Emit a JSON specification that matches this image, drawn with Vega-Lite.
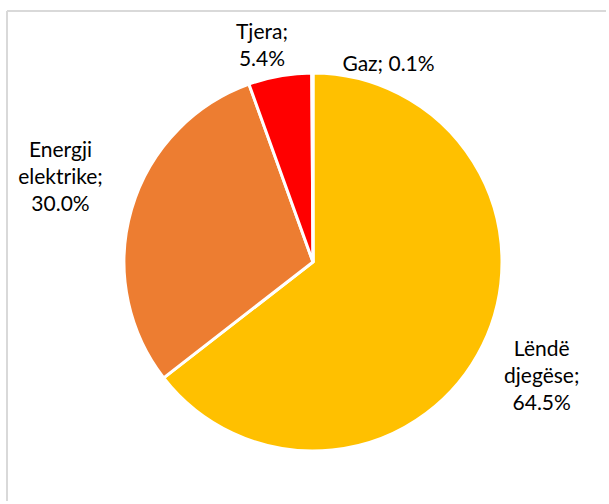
{
  "$schema": "https://vega.github.io/schema/vega-lite/v6.json",
  "width": 612,
  "height": 502,
  "autosize": {"type": "none"},
  "padding": {"left": 7, "top": 11, "right": -10, "bottom": -9},
  "background": "white",
  "config": {"view": {"stroke": null}},
  "data": {
    "values": [
      {"name": "Lëndë djegëse", "value": 64.5, "order": 1, "label": "Lëndë\ndjegëse;\n64.5%"},
      {"name": "Energji elektrike", "value": 30.0, "order": 2, "label": "Energji\nelektrike;\n30.0%"},
      {"name": "Tjera", "value": 5.4, "order": 3, "label": "Tjera;\n5.4%"},
      {"name": "Gaz", "value": 0.1, "order": 4, "label": "Gaz; 0.1%"}
    ]
  },
  "layer": [
    {
      "data": {"values": [{"frame": 1}]},
      "mark": {"type": "rule", "stroke": "#d9d9d9", "strokeWidth": 2},
      "encoding": {"x": {"value": 0}, "y": {"value": 0}, "y2": {"value": 490}}
    },
    {
      "data": {"values": [{"frame": 1}]},
      "mark": {"type": "rule", "stroke": "#d9d9d9", "strokeWidth": 2},
      "encoding": {"y": {"value": 0}, "x": {"value": 0}, "x2": {"value": 599}}
    },
    {
      "encoding": {
        "theta": {"field": "value", "type": "quantitative", "stack": true},
        "order": {"field": "order", "type": "quantitative"}
      },
      "layer": [
        {
          "mark": {"type": "arc", "outerRadius": 189, "stroke": "white", "strokeWidth": 3},
          "encoding": {
            "color": {
              "field": "name",
              "type": "nominal",
              "scale": {
                "domain": ["Lëndë djegëse", "Energji elektrike", "Tjera", "Gaz"],
                "range": ["#FFC000", "#ED7D31", "#FF0000", "#A5A5A5"]
              },
              "legend": null
            }
          }
        },
        {
          "mark": {"type": "text", "radius": 258, "dx": -3, "dy": -26, "font": "Lato", "fontSize": 21, "lineHeight": 27, "lineBreak": "\n", "align": "center", "baseline": "middle", "color": "#000000"},
          "encoding": {"text": {"condition": {"test": "datum.name === 'Lëndë djegëse'", "field": "label"}, "value": ""}}
        },
        {
          "mark": {"type": "text", "radius": 264, "dx": 1, "dy": -37, "font": "Lato", "fontSize": 21, "lineHeight": 27, "lineBreak": "\n", "align": "center", "baseline": "middle", "color": "#000000"},
          "encoding": {"text": {"condition": {"test": "datum.name === 'Energji elektrike'", "field": "label"}, "value": ""}}
        },
        {
          "mark": {"type": "text", "radius": 223, "dx": -12, "dy": -9, "font": "Lato", "fontSize": 21, "lineHeight": 27, "lineBreak": "\n", "align": "center", "baseline": "middle", "color": "#000000"},
          "encoding": {"text": {"condition": {"test": "datum.name === 'Tjera'", "field": "label"}, "value": ""}}
        },
        {
          "mark": {"type": "text", "radius": 197, "dx": 30, "font": "Lato", "fontSize": 21, "lineHeight": 27, "align": "left", "baseline": "middle", "color": "#000000"},
          "encoding": {"text": {"condition": {"test": "datum.name === 'Gaz'", "field": "label"}, "value": ""}}
        }
      ]
    }
  ]
}
